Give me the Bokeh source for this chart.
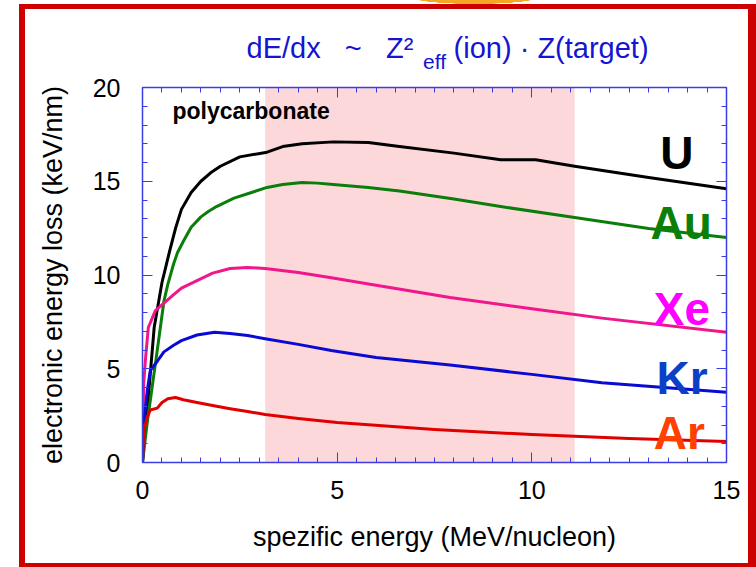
from bokeh.plotting import figure
from bokeh.models import (LinearAxis, FixedTicker, BoxAnnotation, Label, Range1d, Title)
from bokeh.embed import file_html
from bokeh.resources import INLINE

# ---- data ----
u_x = [0, 0.05, 0.15, 0.3, 0.5, 0.7, 0.85, 1.0, 1.25, 1.5, 1.75, 2.0, 2.5, 3.2, 3.6, 4.1, 4.9, 5.8, 6.6, 8.0, 9.2, 10.1, 11.1, 13.0, 15.0]
u_y = [0, 1.5, 3.5, 7.2, 9.6, 11.3, 12.5, 13.5, 14.4, 15.0, 15.45, 15.8, 16.3, 16.55, 16.85, 17.0, 17.1, 17.07, 16.85, 16.5, 16.15, 16.15, 15.8, 15.2, 14.6]

au_x = [0, 0.12, 0.38, 0.55, 0.65, 0.8, 0.9, 1.05, 1.25, 1.5, 1.7, 1.9, 2.35, 2.8, 3.2, 3.6, 4.1, 4.5, 4.9, 5.8, 6.6, 8.0, 9.2, 11.1, 13.0, 15.0]
au_y = [0, 2.1, 6.0, 8.6, 9.5, 10.6, 11.2, 11.8, 12.55, 13.1, 13.4, 13.65, 14.1, 14.4, 14.67, 14.83, 14.93, 14.9, 14.83, 14.67, 14.48, 14.05, 13.65, 13.07, 12.48, 12.0]

xe_x = [0, 0.03, 0.08, 0.15, 0.33, 0.55, 0.8, 1.0, 1.4, 1.8, 2.25, 2.7, 3.15, 4.0, 4.85, 6.0, 7.9, 10.0, 11.8, 15.0]
xe_y = [0, 4.2, 5.6, 7.2, 8.1, 8.5, 8.95, 9.3, 9.7, 10.1, 10.35, 10.4, 10.35, 10.13, 9.85, 9.45, 8.8, 8.2, 7.7, 6.95]

kr_x = [0, 0.05, 0.12, 0.2, 0.38, 0.55, 0.8, 1.0, 1.4, 1.85, 2.25, 2.7, 3.15, 4.0, 4.85, 6.0, 7.9, 10.0, 11.8, 15.0]
kr_y = [0, 2.4, 3.8, 4.9, 5.4, 5.9, 6.25, 6.5, 6.8, 6.95, 6.88, 6.77, 6.6, 6.3, 5.97, 5.6, 5.2, 4.7, 4.25, 3.75]

ar_x = [0, 0.03, 0.12, 0.2, 0.38, 0.5, 0.65, 0.85, 1.05, 1.4, 1.8, 2.25, 2.7, 3.15, 4.0, 5.0, 7.5, 10.0, 12.5, 15.0]
ar_y = [0, 1.7, 2.4, 2.8, 2.9, 3.2, 3.4, 3.47, 3.35, 3.2, 3.04, 2.87, 2.72, 2.56, 2.35, 2.13, 1.76, 1.49, 1.28, 1.12]

ions = ["U", "Au", "Xe", "Kr", "Ar"]
line_colors = ["#000000", "#0a7d0a", "#f0168c", "#0a0ad2", "#e00000"]
label_colors = ["#000000", "#0a800a", "#ff00ff", "#0b3fc8", "#ff4000"]

x_ticks = [0, 5, 10, 15]
y_ticks = [0, 5, 10, 15, 20]
x_minor = [i * 0.5 for i in range(31)]
y_minor = list(range(21))

window_lo, window_hi = 3.15, 11.1   # shaded polycarbonate window

AXIS_BLUE = "#3c3ce6"
TBLUE = "#1414d2"
FONT = "Liberation Sans"
NB = "\u00a0"

p = figure(width=756, height=567, output_backend="svg", toolbar_location=None,
           x_range=Range1d(0, 15), y_range=Range1d(0, 20),
           min_border_left=142, min_border_right=30, min_border_top=87, min_border_bottom=105,
           x_axis_label="spezific energy (MeV/nucleon)",
           y_axis_label="electronic energy loss (keV/nm)")
p.grid.visible = False
p.outline_line_color = None
p.background_fill_color = "white"
p.border_fill_color = None

# red slide frame and the orange blob peeking in at the top (page decoration)
RED = "linear-gradient(#cc0000, #cc0000)"
p.styles = {
    "background": ", ".join([
        "radial-gradient(ellipse 64px 7px at 475px -3px, #f5a623 97%, rgba(245,166,35,0) 100%) 0 0 / 756px 567px no-repeat",
        RED + " 19px 4px / 6px 563px no-repeat",
        RED + " 19px 4px / 737px 5px no-repeat",
        RED + " 748px 4px / 8px 563px no-repeat",
        RED + " 19px 563px / 737px 4px no-repeat",
        "white",
    ]),
}

# shaded window
p.add_layout(BoxAnnotation(left=window_lo, right=window_hi, bottom=0, top=20,
                           fill_color="#fdd8da", fill_alpha=1.0, line_color=None, level="underlay"))

def style_axis(ax):
    ax.axis_line_color = AXIS_BLUE
    ax.axis_line_width = 1.5
    ax.major_tick_line_color = AXIS_BLUE
    ax.minor_tick_line_color = AXIS_BLUE
    ax.major_tick_in = 10
    ax.major_tick_out = 0
    ax.minor_tick_in = 5
    ax.minor_tick_out = 0
    ax.major_label_text_font = FONT
    ax.major_label_text_color = "black"
    ax.major_label_text_font_size = "25px"
    ax.axis_label_text_font = FONT
    ax.axis_label_text_font_size = "27px"
    ax.axis_label_text_font_style = "normal"
    ax.axis_label_text_color = "black"

xt = FixedTicker(ticks=x_ticks, minor_ticks=x_minor)
yt = FixedTicker(ticks=y_ticks, minor_ticks=y_minor)

p.xaxis[0].ticker = xt
p.yaxis[0].ticker = yt
style_axis(p.xaxis[0])
style_axis(p.yaxis[0])
p.xaxis[0].major_label_standoff = 18
p.yaxis[0].major_label_standoff = 22
p.xaxis[0].axis_label_standoff = 20
p.yaxis[0].axis_label_standoff = 22

# mirrored tick axes (top / right) without numbers
top_ax = LinearAxis(ticker=FixedTicker(ticks=x_ticks, minor_ticks=x_minor))
right_ax = LinearAxis(ticker=FixedTicker(ticks=y_ticks, minor_ticks=y_minor))
style_axis(top_ax)
style_axis(right_ax)
for ax, ticks in ((top_ax, x_ticks), (right_ax, y_ticks)):
    ax.major_label_overrides = {t: "" for t in ticks}
    ax.major_label_text_font_size = "1px"
    ax.major_label_standoff = 0
# the subscript "eff" of the title sits on the top axis label
top_ax.axis_label = "eff"
top_ax.axis_label_text_font_size = "21px"
top_ax.axis_label_text_color = TBLUE
top_ax.axis_label_standoff = 15
right_ax.axis_label = None
p.add_layout(top_ax, "above")
p.add_layout(right_ax, "right")

# main title line (superscript via the Unicode digit)
title_text = ("dE/dx" + NB * 3 + "~" + NB * 3 + "Z\u00b2" + NB * 5 +
              "(ion)" + NB + "\u00b7" + NB + "Z(target)")
p.add_layout(Title(text=title_text, align="left", offset=104, standoff=-34,
                   vertical_align="bottom", text_font=FONT, text_font_size="29px",
                   text_font_style="normal", text_color=TBLUE), "above")

# curves
series_x = [u_x, au_x, xe_x, kr_x, ar_x]
series_y = [u_y, au_y, xe_y, kr_y, ar_y]
for xs, ys, c in zip(series_x, series_y, line_colors):
    p.line(xs, ys, line_color=c, line_width=3, line_join="round")

# ion labels
ion_pos = [(13.3, 16.53), (13.05, 12.75), (13.13, 8.21), (13.2, 4.53), (13.13, 1.6)]
for name, (lx, ly), c in zip(ions, ion_pos, label_colors):
    p.add_layout(Label(x=lx, y=ly, text=name, text_color=c, text_font=FONT,
                       text_font_size="46px", text_font_style="bold",
                       text_baseline="middle"))

p.add_layout(Label(x=0.77, y=18.77, text="polycarbonate", text_color="black", text_font=FONT,
                   text_font_size="23px", text_font_style="bold", text_baseline="middle"))

open("out.html", "w").write(file_html(p, INLINE))
